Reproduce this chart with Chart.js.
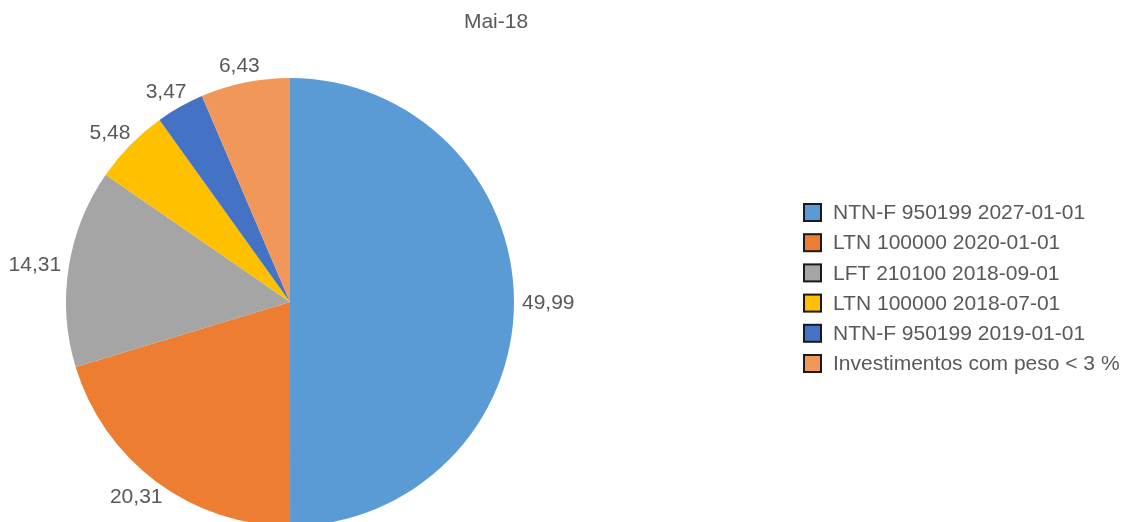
<!DOCTYPE html>
<html>
<head>
<meta charset="utf-8">
<script src="https://cdn.jsdelivr.net/npm/chart.js@4/dist/chart.umd.min.js"></script>
<style>
  html, body { margin: 0; padding: 0; background: #fff; overflow: hidden; }
  #wrap { width: 1135px; height: 522px; overflow: hidden; position: relative; }
  #wrap canvas { position: absolute; left: 0; top: 0; }
</style>
</head>
<body>
<div id="wrap"><canvas id="chart" width="1135" height="604"></canvas></div>
<script>
const title = "Mai-18";
const labels = [
  "NTN-F 950199 2027-01-01",
  "LTN 100000 2020-01-01",
  "LFT 210100 2018-09-01",
  "LTN 100000 2018-07-01",
  "NTN-F 950199 2019-01-01",
  "Investimentos com peso < 3 %"
];
const values = [49.99, 20.31, 14.31, 5.48, 3.47, 6.43];
const colors = ["#5B9BD5", "#ED7D31", "#A5A5A5", "#FFC000", "#4472C4", "#F1975A"];

const textColor = "#595959";
const font = "21px 'Liberation Sans', Arial, sans-serif";

// title, value labels and legend drawn on top of the pie
const decorations = {
  id: "decorations",
  afterDraw(chart) {
    const ctx = chart.ctx;
    ctx.save();
    ctx.font = font;
    ctx.fillStyle = textColor;

    // title
    ctx.textAlign = "center";
    ctx.textBaseline = "middle";
    ctx.fillText(title, 496, 22);

    // value labels pushed outward from each slice's edge
    const arcs = chart.getDatasetMeta(0).data;
    arcs.forEach((arc, i) => {
      const txt = values[i].toFixed(2).replace(".", ",");
      const w = ctx.measureText(txt).width;
      const mid = (arc.startAngle + arc.endAngle) / 2;
      const c = Math.cos(mid), s = Math.sin(mid);
      const r = arc.outerRadius + 8;
      const x = arc.x + c * r + c * w / 2;
      const y = arc.y + s * r + s * 10;
      ctx.textAlign = "center";
      ctx.textBaseline = "middle";
      ctx.fillText(txt, x, y + 1);
    });

    // legend
    ctx.textAlign = "left";
    ctx.textBaseline = "middle";
    labels.forEach((lab, i) => {
      const cy = 212.5 + i * 30.2;
      ctx.fillStyle = colors[i];
      ctx.fillRect(804, cy - 8.5, 17, 17);
      ctx.strokeStyle = "#1a1a1a";
      ctx.lineWidth = 2;
      ctx.strokeRect(804, cy - 8.5, 17, 17);
      ctx.fillStyle = textColor;
      ctx.fillText(lab, 833, cy + 1);
    });
    ctx.restore();
  }
};

new Chart(document.getElementById("chart"), {
  type: "pie",
  data: {
    labels: labels,
    datasets: [{
      data: values,
      backgroundColor: colors,
      borderWidth: 0
    }]
  },
  options: {
    responsive: false,
    animation: false,
    layout: { padding: { left: 66, right: 621, top: 78, bottom: 78 } },
    plugins: {
      legend: { display: false },
      tooltip: { enabled: false }
    }
  },
  plugins: [decorations]
});
</script>
</body>
</html>
